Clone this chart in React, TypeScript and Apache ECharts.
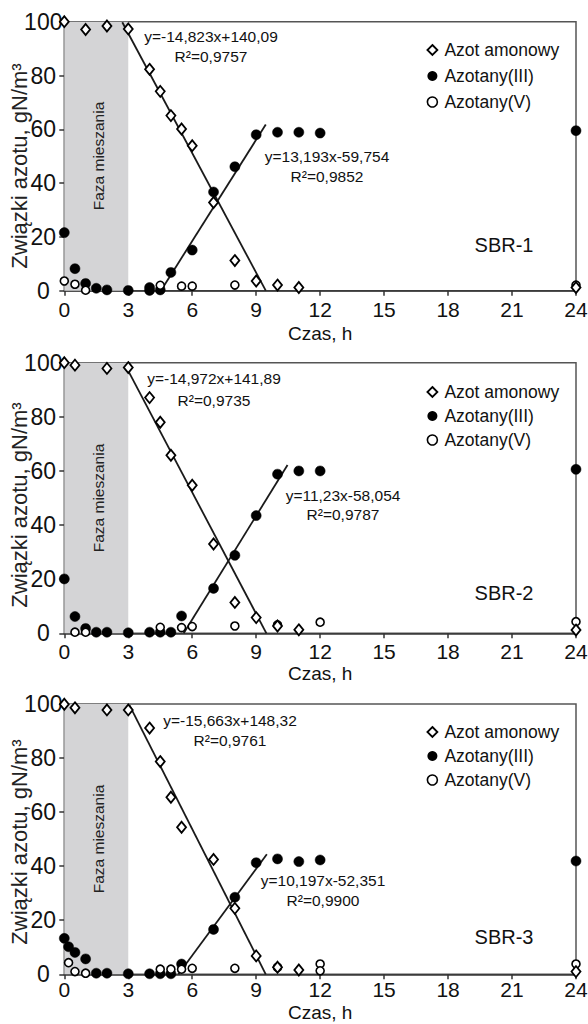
import React, { useEffect, useRef } from "react";
import * as echarts from "echarts";

const FONT = "'Liberation Sans', Arial, sans-serif";

// ---- data: panel 1 (SBR-1)
const ammonT1 = [0, 1, 2, 3, 4, 4.5, 5, 5.5, 6, 7, 8, 9, 10, 11, 24];
const ammonV1 = [100, 97.1, 98.4, 97.3, 82.3, 74.1, 65.1, 60.1, 53.9, 32.8, 11.2, 3.6, 2.1, 1.2, 1.2];
const nitriteT1 = [0, 0.5, 1, 1.5, 2, 3, 4, 4, 4.5, 5, 6, 7, 8, 9, 10, 11, 12, 24];
const nitriteV1 = [21.6, 8.2, 2.7, 0.9, 0.3, 0.1, 1.2, 0.1, 0.3, 6.8, 15.1, 36.7, 46.1, 58.0, 58.9, 58.9, 58.6, 59.5];
const nitrateT1 = [0, 0.5, 1, 4.5, 5.5, 6, 8, 24];
const nitrateV1 = [3.6, 2.4, 0.2, 2.0, 1.7, 1.7, 2.1, 2.1];
const trendAmmon1 = [[2.72, 99.8], [9.45, 0]];
const trendNitrite1 = [[4.53, 0], [9.45, 61.8]];

// ---- data: panel 2 (SBR-2)
const ammonT2 = [0, 0.5, 2, 3, 4, 4.5, 5, 6, 7, 8, 9, 10, 11, 24];
const ammonV2 = [100, 99.1, 97.9, 98.2, 87.1, 78.0, 65.8, 54.7, 33.0, 11.4, 5.8, 2.7, 1.3, 1.2];
const nitriteT2 = [0, 0.5, 1, 1.5, 2, 3, 4, 4.5, 5, 5.5, 7, 8, 9, 10, 11, 12, 24];
const nitriteV2 = [20.1, 6.2, 1.8, 0.4, 0.4, 0.2, 0.4, 0.4, 0.4, 6.4, 16.6, 28.8, 43.5, 58.8, 60.0, 60.0, 60.6];
const nitrateT2 = [0.5, 1, 4.5, 5.5, 6, 8, 10, 12, 24];
const nitrateV2 = [0.4, 0.4, 2.2, 2.1, 2.5, 2.7, 3.1, 4.1, 4.3];
const trendAmmon2 = [[3.0, 97.0], [9.48, 0]];
const trendNitrite2 = [[5.6, 0], [10.47, 62.2]];

// ---- data: panel 3 (SBR-3)
const ammonT3 = [0, 0.5, 2, 3, 4, 4.5, 5, 5.5, 7, 8, 9, 10, 11, 24];
const ammonV3 = [99.9, 98.6, 97.8, 97.8, 91.1, 78.7, 65.5, 54.4, 42.5, 24.4, 6.8, 2.6, 1.6, 1.0];
const nitriteT3 = [0, 0.2, 0.5, 1, 1.5, 2, 3, 4, 4.5, 5, 5.5, 7, 8, 9, 10, 11, 12, 24];
const nitriteV3 = [13.3, 10.2, 8.1, 5.7, 0.4, 0.4, 0.2, 0.2, 0.2, 0.2, 3.8, 16.6, 28.5, 41.3, 42.7, 41.7, 42.3, 41.9];
const nitrateT3 = [0.2, 0.5, 1, 4.5, 5, 5.5, 6, 8, 10, 12, 12, 24];
const nitrateV3 = [4.3, 1.0, 0.4, 1.9, 1.9, 1.9, 2.2, 2.2, 2.6, 3.8, 1.3, 3.8];
const trendAmmon3 = [[3.06, 99.5], [9.45, 0]];
const trendNitrite3 = [[5.35, 0], [9.5, 44.4]];

const seriesNames = ["Azot amonowy", "Azotany(III)", "Azotany(V)"];
const xTicks = { min: 0, max: 24, interval: 3 };
const yTicks = { min: 0, max: 100, interval: 20 };
const mixZone = [0, 3];
const yTitle = "Związki azotu, gN/m³";
const xTitle = "Czas, h";
const mixLabel = "Faza mieszania";

const panels = [
  {
    label: "SBR-1",
    ammonT: ammonT1, ammonV: ammonV1, nitriteT: nitriteT1, nitriteV: nitriteV1,
    nitrateT: nitrateT1, nitrateV: nitrateV1, trendA: trendAmmon1, trendN: trendNitrite1,
    eqA: ["y=-14,823x+140,09", "R²=0,9757"],
    eqN: ["y=13,193x-59,754", "R²=0,9852"],
  },
  {
    label: "SBR-2",
    ammonT: ammonT2, ammonV: ammonV2, nitriteT: nitriteT2, nitriteV: nitriteV2,
    nitrateT: nitrateT2, nitrateV: nitrateV2, trendA: trendAmmon2, trendN: trendNitrite2,
    eqA: ["y=-14,972x+141,89", "R²=0,9735"],
    eqN: ["y=11,23x-58,054", "R²=0,9787"],
  },
  {
    label: "SBR-3",
    ammonT: ammonT3, ammonV: ammonV3, nitriteT: nitriteT3, nitriteV: nitriteV3,
    nitrateT: nitrateT3, nitrateV: nitrateV3, trendA: trendAmmon3, trendN: trendNitrite3,
    eqA: ["y=-15,663x+148,32", "R²=0,9761"],
    eqN: ["y=10,197x-52,351", "R²=0,9900"],
  },
];

// layout (pixels)
const layout = [
  { top: 21.7, height: 269, xNameGap: 33, xLabelMargin: 8, legendTop: 36, legendGap: 8,
    eqA: [211, 36, 56.5], eqN: [327, 156.5, 176.5], sbr: [504, 245], faza: [98, 156], yName: [19, 166] },
  { top: 362.7, height: 270.6, xNameGap: 31, xLabelMargin: 8, legendTop: 378, legendGap: 6,
    eqA: [214, 378, 400], eqN: [343, 495, 514], sbr: [504, 593], faza: [98, 498], yName: [19, 505] },
  { top: 704, height: 270.3, xNameGap: 29, xLabelMargin: 5, legendTop: 718, legendGap: 6,
    eqA: [230, 720, 740], eqN: [323, 880, 900], sbr: [504, 937], faza: [98, 839], yName: [19, 842] },
];
const gridLeft = 64.3;
const gridRight = 12;

const zip = (t: number[], v: number[]) => t.map((x, i) => [x, v[i]]);

function buildOption() {
  const grid: any[] = [];
  const xAxis: any[] = [];
  const yAxis: any[] = [];
  const series: any[] = [];
  const legend: any[] = [];
  const graphic: any[] = [];
  const axisColor = "#333";

  panels.forEach((p, i) => {
    const L = layout[i];
    grid.push({
      left: gridLeft, right: gridRight, top: L.top, height: L.height,
      containLabel: false, outerBoundsMode: "none",
      show: true, borderColor: "#555", borderWidth: 1.5, backgroundColor: "transparent",
    });
    xAxis.push({
      gridIndex: i, type: "value", ...xTicks,
      axisLine: { show: true, onZero: false, lineStyle: { color: axisColor, width: 1.5 } },
      axisTick: { show: true, length: 5, lineStyle: { color: axisColor, width: 1.5 } },
      axisLabel: { fontSize: 21, color: "#111", margin: L.xLabelMargin, fontFamily: FONT },
      splitLine: { show: false },
      name: xTitle, nameLocation: "middle", nameGap: L.xNameGap,
      nameTextStyle: { fontSize: 19, color: "#111", fontFamily: FONT },
    });
    yAxis.push({
      gridIndex: i, type: "value", ...yTicks,
      axisLine: { show: true, lineStyle: { color: axisColor, width: 1.5 } },
      axisTick: { show: true, length: 5, lineStyle: { color: axisColor, width: 1.5 } },
      axisLabel: { fontSize: 23, color: "#111", margin: 21, align: "center", fontFamily: FONT },
      splitLine: { show: false },
    });
    series.push({
      type: "line", name: "trendA" + i, xAxisIndex: i, yAxisIndex: i,
      data: p.trendA, symbol: "none", z: 2, silent: true,
      lineStyle: { color: "#1a1a1a", width: 1.8 },
      markArea: {
        silent: true, z: 1,
        itemStyle: { color: "#d4d4d6" },
        data: [[{ xAxis: mixZone[0] }, { xAxis: mixZone[1] }]],
      },
    });
    series.push({
      type: "line", name: "trendN" + i, xAxisIndex: i, yAxisIndex: i,
      data: p.trendN, symbol: "none", z: 2, silent: true,
      lineStyle: { color: "#1a1a1a", width: 1.8 },
    });
    series.push({
      type: "scatter", name: seriesNames[1], xAxisIndex: i, yAxisIndex: i,
      data: zip(p.nitriteT, p.nitriteV), symbol: "circle", symbolSize: 10, z: 4,
      itemStyle: { color: "#000", borderColor: "#000", borderWidth: 0.5, opacity: 1 },
    });
    series.push({
      type: "scatter", name: seriesNames[2], xAxisIndex: i, yAxisIndex: i,
      data: zip(p.nitrateT, p.nitrateV), symbol: "circle", symbolSize: 8, z: 5,
      itemStyle: { color: "#fff", borderColor: "#000", borderWidth: 1.6, opacity: 1 },
    });
    series.push({
      type: "scatter", name: seriesNames[0], xAxisIndex: i, yAxisIndex: i,
      data: zip(p.ammonT, p.ammonV), symbol: "diamond", symbolSize: [9, 11], z: 6,
      itemStyle: { color: "#fff", borderColor: "#000", borderWidth: 1.8, opacity: 1 },
    });
    legend.push({
      orient: "vertical", left: 421.5, top: L.legendTop, itemGap: L.legendGap,
      itemWidth: 10, itemHeight: 10, selectedMode: false,
      textStyle: { fontSize: 17.5, color: "#111", fontFamily: FONT, lineHeight: 18, padding: [0, 0, 0, 2] },
      data: [
        { name: seriesNames[0], icon: "diamond", itemStyle: { color: "#fff", borderColor: "#000", borderWidth: 1.8 } },
        { name: seriesNames[1], icon: "circle", itemStyle: { color: "#000", borderColor: "#000", borderWidth: 0 } },
        { name: seriesNames[2], icon: "circle", itemStyle: { color: "#fff", borderColor: "#000", borderWidth: 1.6 } },
      ],
    });
    const txt = (text: string, x: number, y: number, size: number, extra: any = {}, fill = "#111") => ({
      type: "text", x, y, z: 20, silent: true, ...extra,
      style: { text, fontSize: size, fontFamily: FONT, fill, align: "center", verticalAlign: "middle" },
    });
    graphic.push(txt(p.eqA[0], L.eqA[0], L.eqA[1], 15.5));
    graphic.push(txt(p.eqA[1], L.eqA[0], L.eqA[2], 15.5));
    graphic.push(txt(p.eqN[0], L.eqN[0], L.eqN[1], 15.5));
    graphic.push(txt(p.eqN[1], L.eqN[0], L.eqN[2], 15.5));
    graphic.push(txt(p.label, L.sbr[0], L.sbr[1], 20));
    graphic.push(txt(mixLabel, L.faza[0], L.faza[1], 15.5, { rotation: Math.PI / 2 }, "#222"));
    graphic.push(txt(yTitle, L.yName[0], L.yName[1], 22, { rotation: Math.PI / 2 }, "#222"));
  });

  return {
    animation: false,
    backgroundColor: "#fff",
    textStyle: { fontFamily: FONT },
    grid, xAxis, yAxis, series, legend, graphic,
  };
}

export default function App() {
  const ref = useRef<HTMLDivElement>(null);
  useEffect(() => {
    if (!ref.current) return;
    const chart = echarts.init(ref.current, null, { renderer: "svg" });
    chart.setOption(buildOption() as any);
    return () => chart.dispose();
  }, []);
  return (
    <div
      ref={ref}
      style={{ position: "absolute", left: 0, top: 0, width: 588, height: 1024, background: "#fff" }}
    />
  );
}
